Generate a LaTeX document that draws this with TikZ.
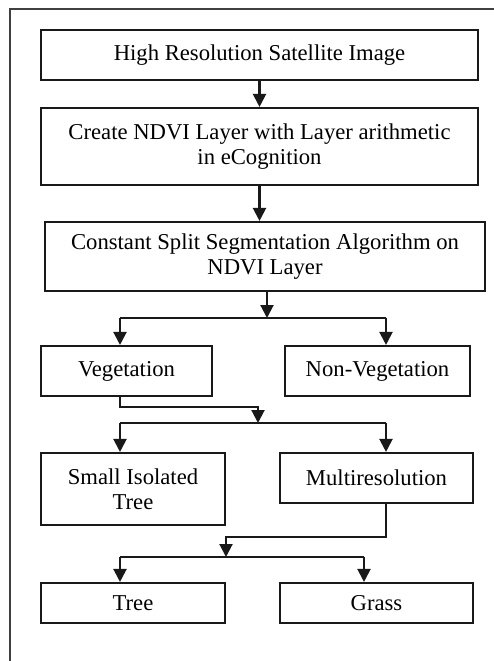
\documentclass[tikz,border=0pt]{standalone}
\usepackage{fontspec}
\setmainfont{Liberation Serif}
\usetikzlibrary{arrows.meta,positioning,calc}

\begin{document}
\begin{tikzpicture}[
  stepbox/.style={
    draw=black!90,
    line width=1.2pt,
    fill=white,
    align=center,
    inner sep=2pt,
    font=\fontsize{12.9}{14.4}\selectfont
  },
  flow/.style={line width=1.2pt, draw=black!90},
  arr/.style={flow, -{Triangle[width=0.26cm,length=0.26cm]}}
]

% Page crop
\useasboundingbox (0,0) rectangle (9.88,-13.22);
\draw[line width=1.2pt, black!75] (9.88,-0.18) -- (0.20,-0.18) -- (0.20,-13.22);

% Top: input and preprocessing
\node[stepbox, minimum width=8.74cm, minimum height=1.00cm] (hrsi) at (5.19,-1.10)
{High Resolution Satellite Image};

\node[stepbox, minimum width=8.74cm, minimum height=1.54cm] (ndvi) at (5.19,-2.93)
{Create NDVI Layer with Layer arithmetic\\in eCognition};

\node[stepbox, minimum width=8.80cm, minimum height=1.38cm] (seg) at (5.30,-5.13)
{Constant Split Segmentation Algorithm on\\NDVI Layer};

% Middle: first split
\node[stepbox, minimum width=3.42cm, minimum height=1.00cm] (veg) at (2.53,-7.42)
{Vegetation};

\node[stepbox, minimum width=3.70cm, minimum height=1.00cm] (nonveg) at (7.55,-7.42)
{Non-Vegetation};

% Second split
\node[stepbox, minimum width=3.68cm, minimum height=1.44cm] (sit) at (2.66,-9.78)
{Small Isolated\\Tree};

\node[stepbox, minimum width=3.86cm, minimum height=1.00cm] (multi) at (7.53,-9.56)
{Multiresolution};

% Bottom: classes
\node[stepbox, minimum width=3.68cm, minimum height=0.80cm] (tree) at (2.66,-12.06)
{Tree};

\node[stepbox, minimum width=3.86cm, minimum height=0.80cm] (grass) at (7.53,-12.06)
{Grass};

% Straight arrows
\draw[arr] (hrsi.south) -- (ndvi.north);
\draw[arr] (ndvi.south) -- (ndvi.south |- seg.north);

% Split below segmentation
\coordinate (sp1) at (5.34,-6.36);
\coordinate (sp1l) at (2.40,-6.36);
\coordinate (sp1r) at (7.72,-6.36);
\draw[arr] (sp1 |- seg.south) -- (sp1);
\draw[flow] (sp1l) -- (sp1r);
\draw[arr] (sp1l) -- (sp1l |- veg.north);
\draw[arr] (sp1r) -- (sp1r |- nonveg.north);

% Vegetation -> split
\coordinate (vb) at (2.40,-8.14);
\coordinate (sp2) at (5.16,-8.46);
\coordinate (sp2l) at (2.40,-8.46);
\coordinate (sp2r) at (7.72,-8.46);
\draw[arr] (vb |- veg.south) -- (vb) -| (sp2);
\draw[flow] (sp2l) -- (sp2r);
\draw[arr] (sp2l) -- (sp2l |- sit.north);
\draw[arr] (sp2r) -- (sp2r |- multi.north);

% Multiresolution -> split
\coordinate (mb) at (7.72,-10.74);
\coordinate (sp3) at (4.52,-11.14);
\coordinate (sp3l) at (2.40,-11.14);
\coordinate (sp3r) at (7.28,-11.14);
\draw[arr] (mb |- multi.south) -- (mb) -| (sp3);
\draw[flow] (sp3l) -- (sp3r);
\draw[arr] (sp3l) -- (sp3l |- tree.north);
\draw[arr] (sp3r) -- (sp3r |- grass.north);

\end{tikzpicture}
\end{document}
